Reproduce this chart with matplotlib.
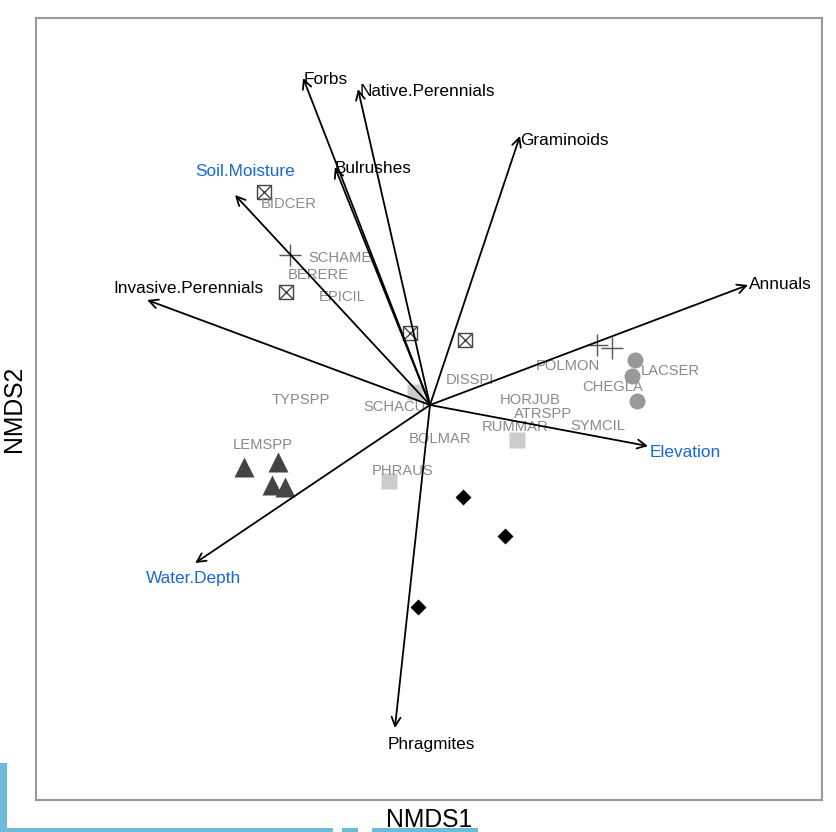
import matplotlib.pyplot as plt
from matplotlib.patches import Rectangle

plt.rcParams['font.family'] = ['Liberation Sans', 'DejaVu Sans']

# environmental / functional-group vectors (NMDS1, NMDS2)
vec_names = ['Forbs', 'Native.Perennials', 'Graminoids', 'Bulrushes', 'Soil.Moisture',
             'Invasive.Perennials', 'Annuals', 'Elevation', 'Water.Depth', 'Phragmites']
vec_x = [-0.423, -0.240, 0.300, -0.317, -0.650, -0.943, 1.060, 0.727, -0.783, -0.117]
vec_y = [1.090, 1.053, 0.897, 0.793, 0.700, 0.350, 0.400, -0.137, -0.527, -1.077]
env_vars = ['Soil.Moisture', 'Elevation', 'Water.Depth']

# site scores by group
box_x = [-0.553, -0.480, -0.067, 0.117]
box_y = [0.710, 0.377, 0.240, 0.217]
plus_x = [-0.467, 0.557, 0.607]
plus_y = [0.500, 0.200, 0.190]
circ_x = [0.683, 0.673, 0.690]
circ_y = [0.150, 0.097, 0.013]
sq_x = [-0.050, 0.290, -0.137]
sq_y = [0.043, -0.117, -0.253]
tri_x = [-0.620, -0.507, -0.527, -0.483]
tri_y = [-0.207, -0.190, -0.267, -0.273]
dia_x = [0.110, 0.250, -0.040]
dia_y = [-0.307, -0.437, -0.673]

# species scores
spp = ['BIDCER', 'SCHAME', 'BERERE', 'EPICIL', 'TYPSPP', 'SCHACU', 'DISSPI', 'POLMON',
       'LACSER', 'CHEGLA', 'HORJUB', 'ATRSPP', 'RUMMAR', 'SYMCIL', 'BOLMAR', 'PHRAUS', 'LEMSPP']
spp_x = [-0.470, -0.300, -0.373, -0.293, -0.430, -0.117, 0.133, 0.460,
         0.800, 0.610, 0.333, 0.377, 0.283, 0.560, 0.033, -0.093, -0.557]
spp_y = [0.670, 0.490, 0.433, 0.360, 0.017, -0.007, 0.083, 0.130,
         0.113, 0.060, 0.017, -0.030, -0.073, -0.070, -0.113, -0.220, -0.133]

# label placement relative to arrow tips (pixels, alignment)
lab_off = {
    'Forbs': (1, -2, 'left'), 'Native.Perennials': (2, -2, 'left'),
    'Graminoids': (0, -5, 'left'), 'Bulrushes': (0, -1, 'left'),
    'Soil.Moisture': (10, 23, 'center'), 'Invasive.Perennials': (41, 11, 'center'),
    'Annuals': (1, 0, 'left'), 'Elevation': (2, -6, 'left'),
    'Water.Depth': (-2, -15, 'center'), 'Phragmites': (36, -16, 'center'),
}

fig = plt.figure(figsize=(8.36, 8.32), dpi=100)
ax = fig.add_axes([36 / 836, 32 / 832, 786 / 836, 782 / 832])
ax.set_xlim(-1.3133, 1.3067)
ax.set_ylim(-1.3167, 1.29)
ax.set_xticks([])
ax.set_yticks([])
for s in ax.spines.values():
    s.set_color('#9a9a9a')
    s.set_linewidth(1.5)

ax.plot(box_x, box_y, 's', ms=10.5, mfc='none', mec='#444444', mew=1.0, ls='none')
ax.plot(box_x, box_y, 'x', ms=10.5, mec='#444444', mew=1.0, ls='none')
ax.plot(plus_x, plus_y, '+', ms=16, mec='#555555', mew=1.0, ls='none')
ax.plot(circ_x, circ_y, 'o', ms=11.5, color='#999999', mec='none', ls='none')
ax.plot(sq_x, sq_y, 's', ms=11, color='#cccccc', mec='none', ls='none')
ax.plot(tri_x, tri_y, '^', ms=15, color='#444444', mec='none', ls='none')
ax.plot(dia_x, dia_y, 'D', ms=8.5, color='black', mec='none', ls='none')

for name, x, y in zip(spp, spp_x, spp_y):
    ax.text(x, y, name, color='#8a8a8a', fontsize=10.6, ha='center', va='center')

for name, x, y in zip(vec_names, vec_x, vec_y):
    ax.annotate('', xy=(x, y), xytext=(0, 0),
                arrowprops=dict(arrowstyle='->', lw=1.3, color='black',
                                shrinkA=0, shrinkB=0, mutation_scale=16))
    dx, dy, ha = lab_off[name]
    col = '#1a66d6' if name in env_vars else 'black'
    ax.annotate(name, xy=(x, y), xytext=(dx, dy), textcoords='offset pixels',
                ha=ha, va='center', fontsize=12.4, color=col)

ax.set_xlabel('NMDS1', fontsize=17.8, labelpad=6)
ax.set_ylabel('NMDS2', fontsize=17.8, labelpad=7)

# blue slide edge strips
blue = '#6dbad9'
fig.add_artist(Rectangle((0, 0), 7 / 836, 69 / 832, transform=fig.transFigure,
                         color=blue, lw=0))
for x0, x1 in [(0, 333), (342, 358), (372, 478)]:
    fig.add_artist(Rectangle((x0 / 836, 0), (x1 - x0) / 836, 4 / 832,
                             transform=fig.transFigure, color=blue, lw=0))

fig.savefig('out.png', dpi=100)
